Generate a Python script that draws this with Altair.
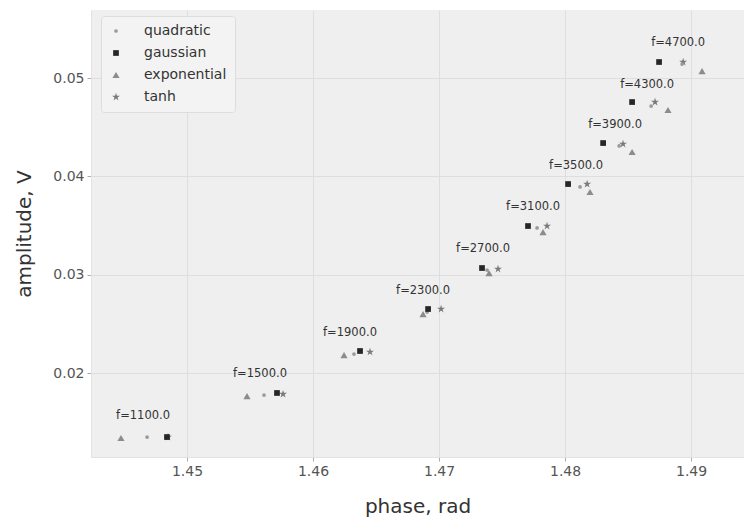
import altair as alt
import pandas as pd

freqs = [1100, 1500, 1900, 2300, 2700, 3100, 3500, 3900, 4300, 4700]

quad_phase = [1.44683, 1.45611, 1.46325, 1.46905, 1.47381, 1.47778, 1.48119, 1.48429, 1.48683, 1.48929]
quad_amp = [0.01349, 0.01776, 0.02193, 0.02620, 0.03047, 0.03475, 0.03892, 0.04309, 0.04715, 0.05142]

gauss_phase = [1.44841, 1.45714, 1.46373, 1.46913, 1.47341, 1.47706, 1.48024, 1.48302, 1.48532, 1.48746]
gauss_amp = [0.01349, 0.01797, 0.02224, 0.02651, 0.03068, 0.03495, 0.03922, 0.04339, 0.04756, 0.05163]

exp_phase = [1.44476, 1.45476, 1.46246, 1.46873, 1.47397, 1.47825, 1.48198, 1.48532, 1.48817, 1.49087]
exp_amp = [0.01339, 0.01766, 0.02183, 0.02600, 0.03017, 0.03434, 0.03841, 0.04248, 0.04675, 0.05071]

tanh_phase = [1.44849, 1.45762, 1.46452, 1.47016, 1.47468, 1.47857, 1.48175, 1.48460, 1.48714, 1.48937]
tanh_amp = [0.01349, 0.01786, 0.02214, 0.02651, 0.03058, 0.03495, 0.03922, 0.04329, 0.04756, 0.05163]

series_names = ["quadratic", "gaussian", "exponential", "tanh"]

STAR = ("M0,-1L0.2233,-0.3074L0.9511,-0.309L0.3614,0.1174L0.5878,0.809L0,0.38"
        "L-0.5878,0.809L-0.3614,0.1174L-0.9511,-0.309L-0.2233,-0.3074Z")

rows = []
draw_order = {"tanh": 0, "exponential": 1, "quadratic": 2, "gaussian": 3}
for name, ph, am in [("tanh", tanh_phase, tanh_amp),
                     ("exponential", exp_phase, exp_amp),
                     ("quadratic", quad_phase, quad_amp),
                     ("gaussian", gauss_phase, gauss_amp)]:
    for f, p, a in zip(freqs, ph, am):
        rows.append({"series": name, "freq": f, "phase": p, "amp": a, "ord": draw_order[name]})
df = pd.DataFrame(rows)

lab = pd.DataFrame({"phase": quad_phase, "amp": quad_amp,
                    "label": [f"f={float(f)}" for f in freqs]})

FONT = "DejaVu Sans"
xs = alt.Scale(domain=[1.44238, 1.4942], nice=False, zero=False)
ys = alt.Scale(domain=[0.01146, 0.05692], nice=False, zero=False)

points = alt.Chart(df).mark_point(filled=True, opacity=1, strokeWidth=0).encode(
    x=alt.X("phase:Q", scale=xs,
            axis=alt.Axis(title="phase, rad", values=[1.45, 1.46, 1.47, 1.48, 1.49],
                          format=".2f", titlePadding=18)),
    y=alt.Y("amp:Q", scale=ys,
            axis=alt.Axis(title="amplitude, V", values=[0.02, 0.03, 0.04, 0.05],
                          format=".2f", titlePadding=18)),
    color=alt.Color("series:N",
                    scale=alt.Scale(domain=series_names,
                                    range=["#9a9a9a", "#262626", "#8c8c8c", "#7a7a7a"]),
                    legend=alt.Legend(title=None, orient="none", legendX=10, legendY=6)),
    shape=alt.Shape("series:N",
                    scale=alt.Scale(domain=series_names,
                                    range=["circle", "square", "triangle-up", STAR])),
    size=alt.Size("series:N",
                  scale=alt.Scale(domain=series_names, range=[14, 70, 55, 55])),
    order=alt.Order("ord:Q"),
)

texts = alt.Chart(lab).mark_text(font=FONT, fontSize=11.5, color="#333333",
                                 dx=-4, dy=-21).encode(
    x=alt.X("phase:Q", scale=xs),
    y=alt.Y("amp:Q", scale=ys),
    text="label:N",
)

chart = alt.layer(points, texts).properties(
    width=653, height=447,
    autosize=alt.AutoSizeParams(type="none"),
    padding={"left": 91, "top": 10, "right": 0, "bottom": 63},
    background="white",
).configure_view(
    fill="#efefef", stroke=None
).configure_axis(
    labelFont=FONT, titleFont=FONT, labelFontSize=14, titleFontSize=20,
    labelColor="#555555", titleColor="#333333", titleFontWeight="normal",
    gridColor="#dedede", gridWidth=1, domain=True, domainColor="#e2e2e2",
    tickColor="#aaaaaa", tickSize=4, labelPadding=3,
).configure_legend(
    labelFont=FONT, labelFontSize=14, labelColor="#333333",
    fillColor="#f3f3f3", strokeColor="#dddddd", padding=8,
    cornerRadius=3, rowPadding=8, labelOffset=21, symbolStrokeWidth=0,
)

chart.save("out.html", embed_options={"renderer": "svg", "actions": False})
